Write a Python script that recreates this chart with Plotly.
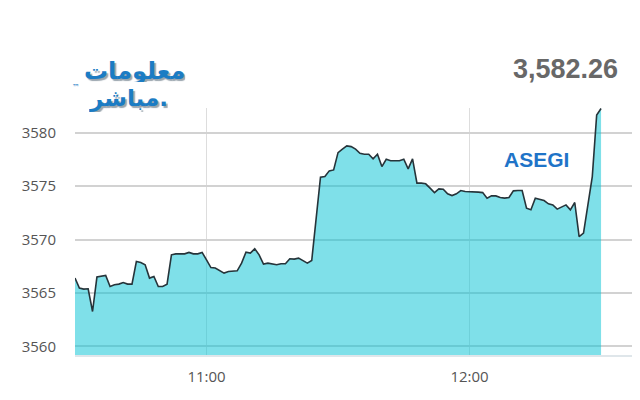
import plotly.graph_objects as go

times = ["10:30", "10:31", "10:32", "10:33", "10:34", "10:35", "10:37", "10:38", "10:39", "10:40",
         "10:41", "10:42", "10:43", "10:44", "10:45", "10:46", "10:47", "10:48", "10:49", "10:50",
         "10:51", "10:52", "10:53", "10:55", "10:56", "10:57", "10:58", "10:59", "11:00", "11:01",
         "11:02", "11:04", "11:05", "11:07", "11:08", "11:09", "11:10", "11:11", "11:12", "11:13",
         "11:14", "11:15", "11:16", "11:17", "11:18", "11:19", "11:20", "11:21", "11:22", "11:23",
         "11:24", "11:26", "11:27", "11:28", "11:29", "11:30", "11:31", "11:32", "11:33", "11:34",
         "11:35", "11:36", "11:37", "11:38", "11:39", "11:40", "11:41", "11:42", "11:43", "11:44",
         "11:45", "11:46", "11:47", "11:48", "11:49", "11:50", "11:51", "11:52", "11:53", "11:54",
         "11:55", "11:56", "11:57", "11:58", "11:59", "12:01", "12:02", "12:03", "12:04", "12:05",
         "12:06", "12:07", "12:08", "12:09", "12:10", "12:11", "12:12", "12:13", "12:14", "12:15",
         "12:16", "12:17", "12:18", "12:19", "12:20", "12:21", "12:22", "12:23", "12:24", "12:25",
         "12:26", "12:28", "12:29", "12:30"]

values = [3566.39, 3565.46, 3565.36, 3565.39, 3563.27, 3566.49, 3566.64, 3565.61, 3565.77, 3565.83,
          3565.98, 3565.83, 3565.83, 3567.94, 3567.85, 3567.64, 3566.39, 3566.54, 3565.61, 3565.61,
          3565.83, 3568.57, 3568.66, 3568.66, 3568.79, 3568.66, 3568.66, 3568.79, 3568.10, 3567.38,
          3567.33, 3566.86, 3567.01, 3567.07, 3567.79, 3568.82, 3568.73, 3569.13, 3568.57, 3567.70,
          3567.79, 3567.73, 3567.64, 3567.73, 3567.73, 3568.20, 3568.17, 3568.26, 3568.04, 3567.79,
          3568.04, 3575.83, 3575.89, 3576.42, 3576.51, 3578.13, 3578.45, 3578.76, 3578.69, 3578.45,
          3578.07, 3577.98, 3577.98, 3577.54, 3577.98, 3576.82, 3577.51, 3577.36, 3577.36, 3577.36,
          3577.51, 3576.61, 3577.54, 3575.27, 3575.27, 3575.21, 3574.80, 3574.39, 3574.74, 3574.71,
          3574.27, 3574.11, 3574.27, 3574.58, 3574.49, 3574.49, 3574.43, 3574.39, 3573.87, 3574.08,
          3574.08, 3573.93, 3573.87, 3573.93, 3574.55, 3574.58, 3574.58, 3572.93, 3572.78, 3573.87,
          3573.78, 3573.64, 3573.34, 3573.24, 3572.84, 3573.08, 3573.24, 3572.78, 3573.46, 3570.28,
          3570.60, 3575.89, 3581.65, 3582.26]

y_ticks = [3560, 3565, 3570, 3575, 3580]
last_value_label = "3,582.26"
index_name = "ASEGI"
logo_line1 = "معلومات"
logo_line2 = "مباشر."

day = "2024-01-01 "
x_vals = [day + t for t in times]

fig = go.Figure()
fig.add_trace(go.Scatter(
    x=x_vals, y=values, mode="lines", fill="tozeroy",
    line=dict(color="#26343a", width=1.6),
    fillcolor="rgba(9,195,213,0.52)",
    hoverinfo="skip", showlegend=False,
))

# page has an 8px body margin: plot area lands at x 75..640, y 108..355
fig.update_layout(
    width=632, height=392,
    margin=dict(l=67, r=0, t=100, b=45),
    paper_bgcolor="white", plot_bgcolor="white",
    font=dict(family="Open Sans, sans-serif", color="#555", size=15),
)
fig.update_xaxes(
    type="date",
    range=[day + "10:30:00", day + "12:38:53"],
    tickformat="%H:%M", dtick=3600000, tick0=day + "11:00",
    showgrid=True, gridcolor="#dddddd", gridwidth=1,
    showline=True, linecolor="#dfe6ea", linewidth=2,
    ticks="", ticklabelstandoff=7,
    zeroline=False, fixedrange=True,
)
fig.update_yaxes(
    range=[3559.2, 3582.3],
    tickvals=y_ticks, tickformat="d",
    showgrid=True, gridcolor="#d2d2d2", gridwidth=1.6,
    ticks="", ticklabelstandoff=18,
    zeroline=False, showline=False, fixedrange=True,
)

def px_to_paper(px, py):
    return (px - 75) / 565.0, (355 - py) / 247.0

def anno(text, px, py, family, size, color, shadow="none", height=None):
    x, y = px_to_paper(px, py)
    d = dict(text=text, x=x, y=y, xref="paper", yref="paper",
             xanchor="center", yanchor="middle", showarrow=False,
             font=dict(family=family, size=size, color=color, shadow=shadow))
    if height is not None:
        d["height"] = height
    return d

logo_shadow = "2px 2px 1px #9aa5ae"
annos = [
    anno("<b>" + logo_line1 + "</b>", 134, 71, "DejaVu Sans", 24, "#1b7cc4", logo_shadow, 22),
    anno("<b>" + logo_line2 + "</b>", 128, 98, "DejaVu Sans", 23, "#1b7cc4", logo_shadow, 28),
    anno("™", 76, 88, "DejaVu Sans", 8, "#1b7cc4"),
    anno("<b>" + last_value_label + "</b>", 565, 69, "Liberation Sans", 27, "#686868"),
    anno("<b>" + index_name + "</b>", 536, 159, "Liberation Sans", 21, "#1f74c8"),
]
fig.update_layout(annotations=annos)

fig.write_html("out.html", config={"displayModeBar": False})
